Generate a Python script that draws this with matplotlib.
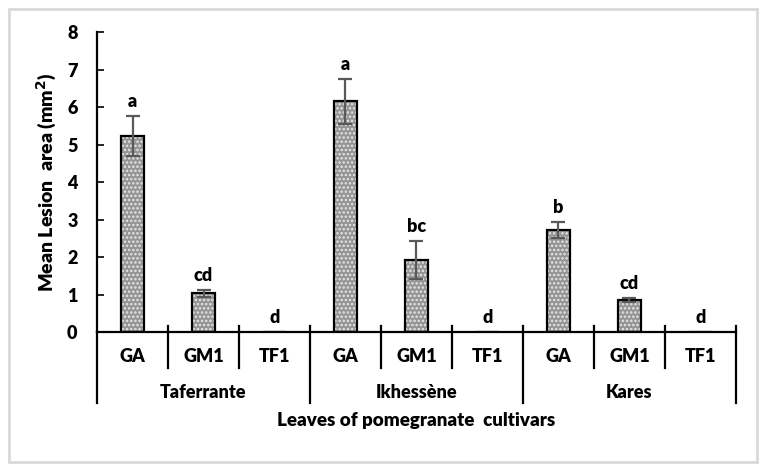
import numpy as np
import matplotlib
matplotlib.use("Agg")
import matplotlib.pyplot as plt
from matplotlib.patches import Rectangle

plt.rcParams['font.family'] = ['Lato', 'DejaVu Sans']
plt.rcParams['font.weight'] = 'bold'
plt.rcParams['hatch.linewidth'] = 1.2

cultivars = ['Taferrante', 'Ikhessène', 'Kares']
isolates = ['GA', 'GM1', 'TF1']
means = [5.22, 1.03, 0.0, 6.15, 1.92, 0.0, 2.72, 0.85, 0.0]
errors = [0.53, 0.10, 0.0, 0.60, 0.50, 0.0, 0.22, 0.05, 0.0]
letters = ['a', 'cd', 'd', 'a', 'bc', 'd', 'b', 'cd', 'd']

fig = plt.figure(figsize=(7.67, 4.69), dpi=100)
fig.patches.append(Rectangle((9 / 767, 7 / 469), 748 / 767, 453 / 469,
                             transform=fig.transFigure, fill=False,
                             edgecolor='#d9d9d9', linewidth=2))
ax = fig.add_axes([97 / 767, 1 - 332 / 469, 639 / 767, 300 / 469])

x = np.arange(len(means))
# stippled fill, then black outline
ax.bar(x, means, width=0.31, color='#949494', hatch='....',
       edgecolor='#e6e6e6', linewidth=0, zorder=2)
ax.bar(x, means, width=0.31, fill=False, edgecolor='black', linewidth=1.6,
       zorder=3)
for xi, m, e in zip(x, means, errors):
    if e > 0:
        ax.errorbar(xi, m, yerr=e, color='#595959', capsize=5, lw=1.6,
                    capthick=1.6, zorder=4)

for xi, m, e, lt in zip(x, means, errors, letters):
    ax.text(xi, m + e + 0.16, lt, ha='center', va='bottom', fontsize=13,
            fontweight='heavy')

ax.set_xlim(-0.5, len(means) - 0.5)
ax.set_ylim(0, 8)
ax.set_yticks(range(0, 9))
ax.tick_params(axis='y', direction='in', length=5, width=1.2, labelsize=13,
               pad=14)
for lb in ax.get_yticklabels():
    lb.set_fontweight('heavy')
ax.set_xticks([])
for s in ['top', 'right']:
    ax.spines[s].set_visible(False)
for s in ['left', 'bottom']:
    ax.spines[s].set_linewidth(1.6)
ax.set_ylabel('Mean Lesion  area (mm$^{\\mathbf{2}}$)', fontsize=14,
              fontweight='heavy', labelpad=6)

trans = ax.get_xaxis_transform()
for i in range(len(means)):
    ax.text(i, -0.08, isolates[i % 3], transform=trans, ha='center',
            va='center', fontsize=13, fontweight='heavy')
for i in range(1, len(means) + 1):
    b = i - 0.5
    low = -0.237 if i % 3 == 0 else -0.12
    ax.plot([b, b], [0.02, low], transform=trans, color='black', lw=1.6,
            clip_on=False)
ax.plot([-0.5, -0.5], [0, -0.237], transform=trans, color='black', lw=1.6,
        clip_on=False)
for g, name in enumerate(cultivars):
    ax.text(g * 3 + 1, -0.2, name, transform=trans, ha='center',
            va='center', fontsize=13, fontweight='heavy')
ax.text(4, -0.295, 'Leaves of pomegranate  cultivars', transform=trans,
        ha='center', va='center', fontsize=13.5, fontweight='heavy')

fig.savefig('out.png', dpi=100)
